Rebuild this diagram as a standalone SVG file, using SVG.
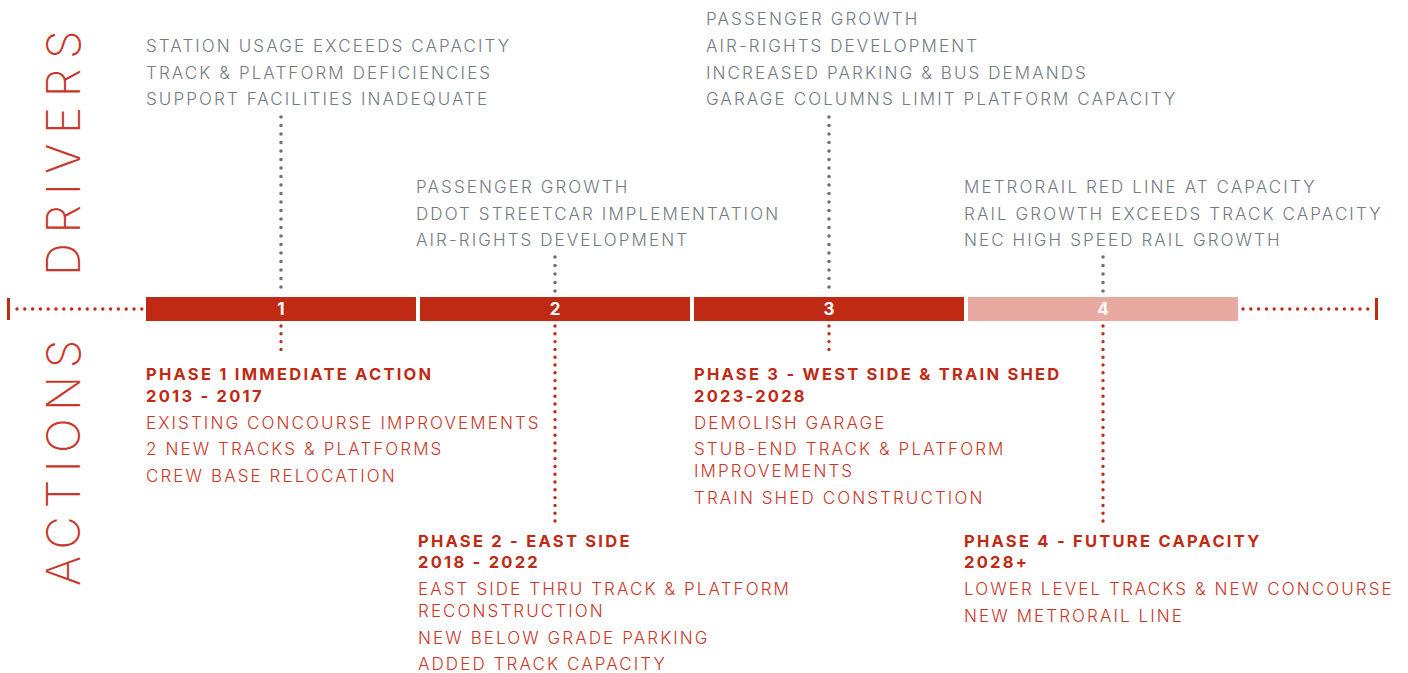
<svg xmlns="http://www.w3.org/2000/svg" width="1408" height="673" viewBox="0 0 1408 673">
<style>
.drv{font-family:"Inter","Liberation Sans",sans-serif;font-size:17px;font-weight:300;fill:#737b84;letter-spacing:2.1px}
.ttl{font-family:"Inter","Liberation Sans",sans-serif;font-size:16.5px;font-weight:700;fill:#c02a15;letter-spacing:2.25px}
.act{font-family:"Inter","Liberation Sans",sans-serif;font-size:17px;font-weight:300;fill:#c8372a;letter-spacing:2.1px}
.big{font-family:"Inter","Liberation Sans",sans-serif;font-size:46px;font-weight:200;fill:#c8372a}
.num{font-family:"Inter","Liberation Sans",sans-serif;font-size:17px;font-weight:700;fill:#ffffff;text-anchor:middle}
.gdot{stroke:#6a727b;stroke-width:3.6;stroke-linecap:round;stroke-dasharray:0 8.5;fill:none}
.rdot{stroke:#c02a15;stroke-width:3.4;stroke-linecap:round;stroke-dasharray:0 7.8;fill:none}
</style>
<rect width="1408" height="673" fill="#ffffff"/>
<g id="labels">
<text class="big" style="letter-spacing:9.6px" transform="translate(80,276) rotate(-90)">DRIVERS</text>
<text class="big" style="letter-spacing:7.5px" transform="translate(80,586) rotate(-90)">ACTIONS</text>
</g>
<g id="connectors">
<line class="rdot" x1="17" y1="309" x2="143" y2="309"/>
<line class="rdot" x1="1243" y1="309" x2="1370" y2="309"/>
<rect x="7" y="298" width="3" height="22" fill="#c02a15"/>
<rect x="1375" y="298" width="3" height="22" fill="#c02a15"/>
<line class="gdot" x1="281" y1="117" x2="281" y2="295"/>
<line class="gdot" x1="555" y1="257" x2="555" y2="295"/>
<line class="gdot" x1="829" y1="117" x2="829" y2="295"/>
<line class="gdot" x1="1103" y1="257" x2="1103" y2="295"/>
<line class="rdot" x1="281" y1="326" x2="281" y2="356"/>
<line class="rdot" x1="555" y1="326" x2="555" y2="522"/>
<line class="rdot" x1="829" y1="326" x2="829" y2="356"/>
<line class="rdot" x1="1103" y1="326" x2="1103" y2="522"/>
</g>
<g id="phase1">
<rect x="146" y="297" width="270" height="24" fill="#c02a15"/>
<text class="num" x="281" y="315">1</text>
<text class="drv" x="146" y="52">STATION USAGE EXCEEDS CAPACITY</text>
<text class="drv" x="146" y="79">TRACK &amp; PLATFORM DEFICIENCIES</text>
<text class="drv" x="146" y="105">SUPPORT FACILITIES INADEQUATE</text>
<text class="ttl" x="146" y="380">PHASE 1 IMMEDIATE ACTION</text>
<text class="ttl" x="146" y="402">2013 - 2017</text>
<text class="act" x="146" y="429">EXISTING CONCOURSE IMPROVEMENTS</text>
<text class="act" x="146" y="455">2 NEW TRACKS &amp; PLATFORMS</text>
<text class="act" x="146" y="482">CREW BASE RELOCATION</text>
</g>
<g id="phase2">
<rect x="420" y="297" width="270" height="24" fill="#c02a15"/>
<text class="num" x="555" y="315">2</text>
<text class="drv" x="416" y="193">PASSENGER GROWTH</text>
<text class="drv" x="416" y="220">DDOT STREETCAR IMPLEMENTATION</text>
<text class="drv" x="416" y="246">AIR-RIGHTS DEVELOPMENT</text>
<text class="ttl" x="418" y="547">PHASE 2 - EAST SIDE</text>
<text class="ttl" x="418" y="568">2018 - 2022</text>
<text class="act" x="418" y="595">EAST SIDE THRU TRACK &amp; PLATFORM</text>
<text class="act" x="418" y="617">RECONSTRUCTION</text>
<text class="act" x="418" y="644">NEW BELOW GRADE PARKING</text>
<text class="act" x="418" y="670">ADDED TRACK CAPACITY</text>
</g>
<g id="phase3">
<rect x="694" y="297" width="270" height="24" fill="#c02a15"/>
<text class="num" x="829" y="315">3</text>
<text class="drv" x="706" y="25">PASSENGER GROWTH</text>
<text class="drv" x="706" y="52">AIR-RIGHTS DEVELOPMENT</text>
<text class="drv" x="706" y="79">INCREASED PARKING &amp; BUS DEMANDS</text>
<text class="drv" x="706" y="105">GARAGE COLUMNS LIMIT PLATFORM CAPACITY</text>
<text class="ttl" x="694" y="380">PHASE 3 - WEST SIDE &amp; TRAIN SHED</text>
<text class="ttl" x="694" y="402">2023-2028</text>
<text class="act" x="694" y="429">DEMOLISH GARAGE</text>
<text class="act" x="694" y="455">STUB-END TRACK &amp; PLATFORM</text>
<text class="act" x="694" y="477">IMPROVEMENTS</text>
<text class="act" x="694" y="504">TRAIN SHED CONSTRUCTION</text>
</g>
<g id="phase4">
<rect x="968" y="297" width="270" height="24" fill="#e8aaa0"/>
<text class="num" x="1103" y="315">4</text>
<text class="drv" x="964" y="193">METRORAIL RED LINE AT CAPACITY</text>
<text class="drv" x="964" y="220">RAIL GROWTH EXCEEDS TRACK CAPACITY</text>
<text class="drv" x="964" y="246">NEC HIGH SPEED RAIL GROWTH</text>
<text class="ttl" x="964" y="547">PHASE 4 - FUTURE CAPACITY</text>
<text class="ttl" x="964" y="568">2028+</text>
<text class="act" x="964" y="595">LOWER LEVEL TRACKS &amp; NEW CONCOURSE</text>
<text class="act" x="964" y="622">NEW METRORAIL LINE</text>
</g>
</svg>
